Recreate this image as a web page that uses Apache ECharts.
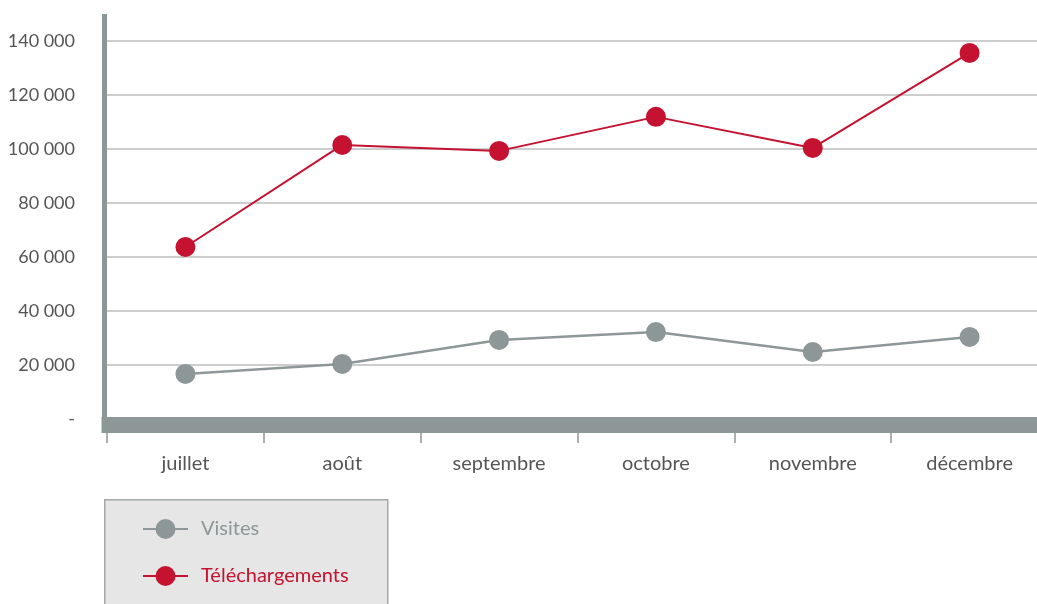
<!DOCTYPE html>
<html>
<head>
<meta charset="utf-8">
<script src="https://cdn.jsdelivr.net/npm/echarts@6/dist/echarts.min.js"></script>
<style>
  html, body { margin: 0; padding: 0; background: #fff; }
  #chart { width: 1037px; height: 604px; }
</style>
</head>
<body>
<div id="chart"></div>
<script>
// mois
const months = ["juillet", "août", "septembre", "octobre", "novembre", "décembre"]
// séries
const visites = [16700, 20400, 29300, 32200, 24800, 30400]
const telechargements = [63700, 101500, 99300, 111900, 100400, 135600]

const grey = "#8e9797"
const red = "#c41230"
const font = "Lato"

const chart = echarts.init(document.getElementById("chart"))

// séparateur de milliers avec espace, "-" pour zéro
function fmt(v) {
  if (v === 0) return "-"
  return String(v).replace(/\B(?=(\d{3})+(?!\d))/g, " ")
}

chart.setOption({
  animation: false,
  textStyle: { fontFamily: font },
  // la zone dépasse le bord droit comme dans l'original
  grid: { left: 107, width: 941, top: 14, bottom: 185, outerBoundsMode: "none", containLabel: false },
  graphic: [
    {
      // cadre de la légende
      type: "rect",
      left: 104,
      top: 499,
      z: 0,
      shape: { width: 283, height: 115 },
      style: { fill: "#e6e6e6", stroke: "#a3a8a8", lineWidth: 1.5 }
    },
    {
      // coin entre les deux axes
      type: "rect",
      left: 101.5,
      top: 417,
      z: 10,
      shape: { width: 8, height: 16 },
      style: { fill: grey }
    }
  ],
  legend: {
    orient: "vertical",
    left: 137,
    top: 514,
    itemWidth: 45,
    itemHeight: 25,
    itemGap: 27,
    z: 5,
    textStyle: { fontFamily: font, fontSize: 20, padding: [0, 0, 0, 8] },
    data: [
      { name: "Visites", textStyle: { color: grey } },
      { name: "Téléchargements", textStyle: { color: red } }
    ]
  },
  xAxis: {
    type: "category",
    data: months,
    boundaryGap: true,
    offset: 6,
    axisLine: { onZero: false, lineStyle: { color: grey, width: 16, cap: "butt" } },
    axisTick: { show: true, length: 18, lineStyle: { color: grey, width: 1.5 } },
    axisLabel: { margin: 29, color: "#555", fontSize: 20, fontFamily: font },
    splitLine: { show: false }
  },
  yAxis: {
    type: "value",
    min: 0,
    max: 150000,
    interval: 20000,
    offset: 3,
    axisLine: { show: true, lineStyle: { color: grey, width: 5, cap: "butt" } },
    axisTick: { show: false },
    axisLabel: {
      margin: 29,
      color: "#555",
      fontSize: 18,
      fontFamily: font,
      showMaxLabel: false,
      formatter: fmt
    },
    splitLine: {
      show: true,
      showMaxLine: false,
      lineStyle: { color: "#bcbcbc", width: 1.5 }
    }
  },
  series: [
    {
      name: "Visites",
      type: "line",
      data: visites,
      symbol: "circle",
      symbolSize: 20,
      lineStyle: { color: grey, width: 2.5 },
      itemStyle: { color: grey },
      z: 3
    },
    {
      name: "Téléchargements",
      type: "line",
      data: telechargements,
      symbol: "circle",
      symbolSize: 20,
      lineStyle: { color: red, width: 2 },
      itemStyle: { color: red },
      z: 3
    }
  ]
})
</script>
</body>
</html>
